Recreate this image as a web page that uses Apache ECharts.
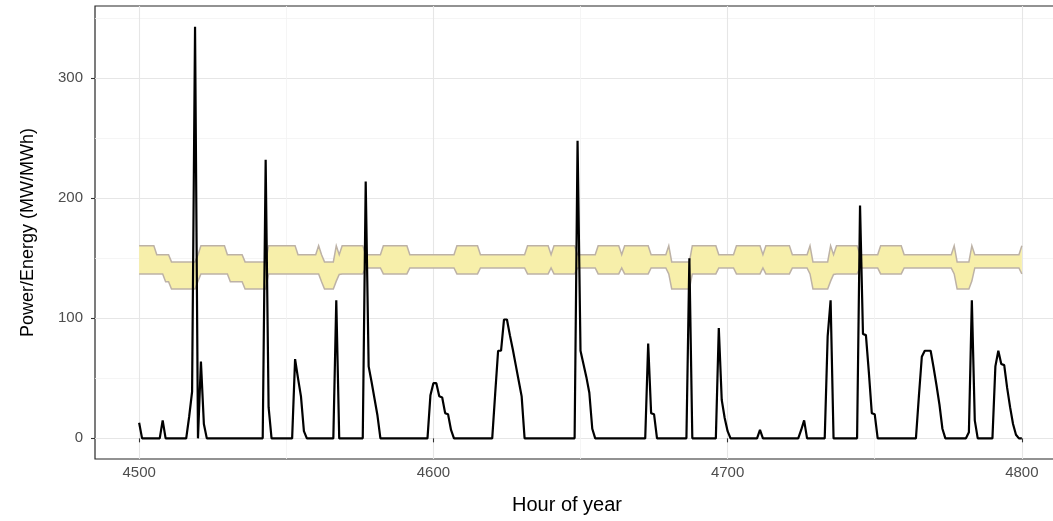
<!DOCTYPE html>
<html><head><meta charset="utf-8">
<script src="https://cdn.jsdelivr.net/npm/echarts@6/dist/echarts.min.js"></script>
<style>html,body{margin:0;padding:0;background:#fff;overflow:hidden;width:1053px;height:521px}#c{width:1090px;height:521px}</style>
</head><body><div id="c"></div>
<script>
// Power/energy series (hour of year, MW)
const powerHours = [4500,4501,4507,4508,4509,4516,4517,4518,4519,4520,4521,4522,4523,
  4542,4543,4544,4545,4552,4553,4554,4555,4556,4557,4566,4567,4568,4576,4577,4578,4579,4580,4581,4582,
  4598,4599,4600,4601,4602,4603,4604,4605,4606,4607,4620,4621,4622,4623,4624,4625,4626,4627,4628,4629,4630,4631,
  4648,4649,4650,4651,4652,4653,4654,4655,4672,4673,4674,4675,4676,4686,4687,4688,
  4696,4697,4698,4699,4700,4701,4710,4711,4712,4724,4725,4726,4727,4733,4734,4735,4736,
  4744,4745,4746,4747,4748,4749,4750,4751,4764,4765,4766,4767,4768,4769,4770,4771,4772,4773,4774,
  4781,4782,4783,4784,4785,4790,4791,4792,4793,4794,4795,4796,4797,4798,4799,4800];
const powerValues = [13,0,0,15,0,0,18,39,343,0,64,12,0,
  0,232,26,0,0,66,50,35,6,0,0,115,0,0,214,60,47,33,19,0,
  0,36,46,46,35,34,21,20,7,0,0,37,73,73,99,99,86,74,61,48,35,0,
  0,248,73,62,51,38,8,0,0,79,21,20,0,0,150,0,
  0,92,32,17,6,0,0,7,0,0,7,15,0,0,85,115,0,
  0,194,87,86,55,21,20,0,0,35,68,73,73,73,59,44,28,8,0,
  0,5,115,15,0,0,60,73,62,61,42,26,12,3,0,0];

// Energy band (upper / lower limits, MWh)
const bandHours = [4500,4505,4506,4508,4509,4510,4511,4519,4520,4521,4529,4530,4531,4535,4536,4543,4544,4553,4554,4560,
  4561,4562,4563,4566,4567,4568,4569,4576,4577,4582,4583,4591,4592,4607,4608,4615,4616,4631,4632,4639,
  4640,4641,4648,4649,4655,4656,4663,4664,4665,4673,4674,4679,4680,4681,4687,4688,4696,4697,4702,4703,
  4711,4712,4713,4721,4722,4727,4728,4729,4734,4735,4736,4737,4744,4745,4751,4752,4759,4760,4776,4777,
  4778,4782,4783,4784,4799,4800];
const bandUpper = [160.5,160.5,153,153,153,153,147,147,153,160.5,160.5,153,153,153,147,147,160.5,160.5,153,153,
  160.5,153,147,147,160.5,153,160.5,160.5,153,153,160.5,160.5,153,153,160.5,160.5,153,153,160.5,160.5,
  153,160.5,160.5,153,153,160.5,160.5,153,160.5,160.5,153,153,160.5,147,147,160.5,160.5,153,153,160.5,
  160.5,153,160.5,160.5,153,153,160.5,147,147,160.5,153,160.5,160.5,153,153,160.5,160.5,153,153,160.5,
  147,147,160.5,153,153,160.5];
const bandLower = [137,137,137,137,130.5,130.5,124.5,124.5,131,137,137,137,130.5,130.5,124.5,124.5,137,137,137,137,
  137,130.5,124.5,124.5,131,136.5,137,137,142,142,137,137,142,142,137,137,142,142,137,137,
  142,137,137,142,142,137,137,142,137,137,142,142,137,124.5,124.5,137,137,142,142,137,
  137,142,137,137,142,142,137,124.5,124.5,131,136.5,137,137,142,142,137,137,142,142,137,
  124.5,124.5,131,142,142,137];

const xTicks = [4500,4600,4700,4800];
const yTicks = [0,100,200,300];

const chart = echarts.init(document.getElementById('c'), null, {renderer: 'canvas'});
const font = 'Liberation Sans, Arial, Helvetica, sans-serif';
chart.setOption({
  animation: false,
  backgroundColor: '#ffffff',
  grid: {left: 95, top: 6, width: 971, height: 453, show: true, borderColor: '#262626', borderWidth: 1.2, backgroundColor: 'transparent'},
  xAxis: {
    type: 'value', min: 4485, max: 4815, splitNumber: 3,
    name: 'Hour of year', nameLocation: 'middle', nameGap: 36,
    nameTextStyle: {fontSize: 20, color: '#000', fontFamily: font, padding: [0, 27, 0, 0]},
    axisLine: {show: false},
    axisTick: {show: true, length: 4, customValues: xTicks, lineStyle: {color: '#333', width: 1.1}},
    axisLabel: {customValues: xTicks, color: '#4d4d4d', fontSize: 15, margin: 6, fontFamily: font,
      formatter: v => String(v)},
    splitLine: {show: true, lineStyle: {color: '#e6e6e6', width: 1.1}},
    minorTick: {show: false, splitNumber: 2},
    minorSplitLine: {show: true, lineStyle: {color: '#f3f3f3', width: 0.8}}
  },
  yAxis: {
    type: 'value', min: -17.2, max: 360.2, splitNumber: 4,
    name: 'Power/Energy (MW/MWh)', nameLocation: 'middle', nameGap: 58,
    nameTextStyle: {fontSize: 18, color: '#000', fontFamily: font},
    axisLine: {show: false},
    axisTick: {show: true, length: 4, customValues: yTicks, lineStyle: {color: '#333', width: 1.1}},
    axisLabel: {customValues: yTicks, color: '#4d4d4d', fontSize: 15, margin: 12, fontFamily: font,
      formatter: v => String(v)},
    splitLine: {show: true, lineStyle: {color: '#e6e6e6', width: 1.1}},
    minorTick: {show: false, splitNumber: 2},
    minorSplitLine: {show: true, lineStyle: {color: '#f3f3f3', width: 0.8}}
  },
  series: [
    {
      type: 'custom', z: 2, silent: true,
      data: bandHours.map((h, i) => [h, bandLower[i], bandUpper[i]]),
      encode: {x: 0, y: [1, 2]},
      renderItem: function (params, api) {
        if (params.dataIndex !== 0) return null;
        const up = [], lo = [];
        for (let i = 0; i < bandHours.length; i++) {
          up.push(api.coord([bandHours[i], bandUpper[i]]));
          lo.push(api.coord([bandHours[i], bandLower[i]]));
        }
        const poly = up.concat(lo.slice().reverse());
        return {type: 'group', children: [
          {type: 'polygon', shape: {points: poly}, style: {fill: '#f7efaa', stroke: null}},
          {type: 'polyline', shape: {points: up}, style: {fill: null, stroke: '#bdb2a6', lineWidth: 1.5}},
          {type: 'polyline', shape: {points: lo}, style: {fill: null, stroke: '#bdb2a6', lineWidth: 1.5}}
        ]};
      }
    },
    {
      type: 'line', z: 3, showSymbol: false, symbol: 'none', silent: true,
      data: powerHours.map((h, i) => [h, powerValues[i]]),
      lineStyle: {color: '#000000', width: 2.2}
    }
  ]
});
</script>
</body></html>
